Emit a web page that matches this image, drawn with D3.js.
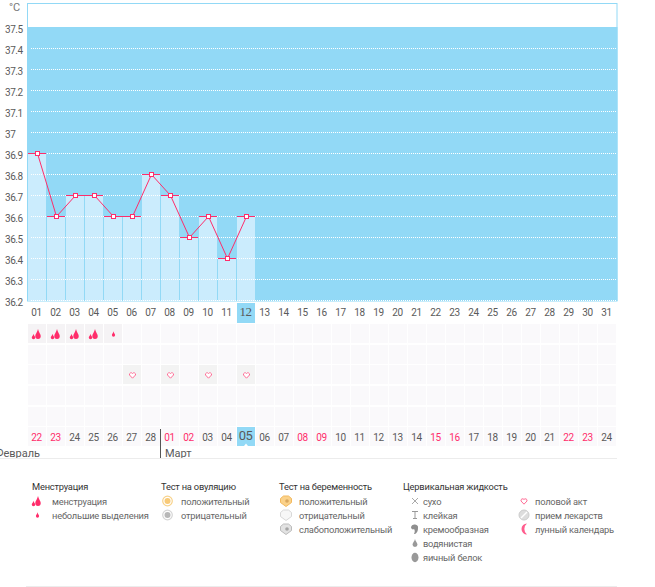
<!DOCTYPE html>
<html>
<head>
<meta charset="utf-8">
<script src="https://cdn.jsdelivr.net/npm/d3@7"></script>
<style>
	html, body { margin: 0; padding: 0; background: #fff; overflow: hidden; }
	svg { display: block; }
	text { font-family: Roboto, sans-serif; font-size: 9.3px; letter-spacing: -.2px; fill: #5a5a5a; }
	.tick-label { font-size: 10px; letter-spacing: -.45px; }
</style>
</head>
<body>
<script>
const cycleDays = ['01','02','03','04','05','06','07','08','09','10','11','12','13','14','15','16','17','18','19','20','21','22','23','24','25','26','27','28','29','30','31'];
const dates = ['22','23','24','25','26','27','28','01','02','03','04','05','06','07','08','09','10','11','12','13','14','15','16','17','18','19','20','21','22','23','24'];
const redDates = [0, 1, 7, 8, 14, 15, 21, 22, 28, 29];
const temps = [36.9, 36.6, 36.7, 36.7, 36.6, 36.6, 36.8, 36.7, 36.5, 36.6, 36.4, 36.6];
const tempTicks = [37.5, 37.4, 37.3, 37.2, 37.1, 37, 36.9, 36.8, 36.7, 36.6, 36.5, 36.4, 36.3, 36.2];
const flow = ['big', 'big', 'big', 'big', 'small'];
const sexDays = [5, 7, 9, 11];
const todayIndex = 11;

const legendGroups = [
	{ title: 'Менструация', x: 32, iconX: 37, textX: 52, items: [['менструация', 'flame'], ['небольшие выделения', 'drop']] },
	{ title: 'Тест на овуляцию', x: 161, iconX: 167.5, textX: 181, items: [['положительный', 'ringYellow'], ['отрицательный', 'ringGray']] },
	{ title: 'Тест на беременность', x: 279, iconX: 286, textX: 299, items: [['положительный', 'badgeYellow'], ['отрицательный', 'badgeWhite'], ['слабоположительный', 'badgeGray']] },
	{ title: 'Цервикальная жидкость', x: 403, iconX: 415, textX: 423, items: [['сухо', 'cross'], ['клейкая', 'sticky'], ['кремообразная', 'creamy'], ['водянистая', 'watery'], ['яичный белок', 'egg']] },
	{ title: '', x: 524, iconX: 524, textX: 535, items: [['половой акт', 'heart'], ['прием лекарств', 'pill'], ['лунный календарь', 'moon']] }
];

const BLUE = '#92d9f6', BAR = '#cbecfd', RED = '#ff2d6b';
const svg = d3.select('body').append('svg').attr('width', 655).attr('height', 587);

const x = d3.scaleBand().domain(d3.range(31)).range([28, 617]);
const y = d3.scaleLinear().domain([36.2, 37.5]).range([300.3, 27.3]);
const yp = d => Math.floor(y(d)) + .5;
const rowY = d3.scaleBand().domain(d3.range(6)).range([324, 448]);
const rowTop = r => Math.round(rowY(r));

// frame and blue field
svg.append('rect').attr('x', 27.5).attr('y', 3.5).attr('width', 589.5).attr('height', 297.5)
	.attr('fill', '#fff').attr('stroke', BLUE);
svg.append('rect').attr('x', 28).attr('y', 27).attr('width', 589.5).attr('height', 274)
	.attr('fill', BLUE);

// temperature bars
svg.selectAll('.bar').data(temps).enter().append('rect')
	.attr('class', 'bar')
	.attr('x', (d, i) => x(i))
	.attr('y', d => yp(d) - .5)
	.attr('width', x.bandwidth() - 1)
	.attr('height', d => 301 - yp(d) + .5)
	.attr('fill', BAR);

// dotted grid
svg.selectAll('.grid').data(tempTicks.slice(1)).enter().append('line')
	.attr('x1', 31).attr('x2', 617)
	.attr('y1', d => yp(d)).attr('y2', d => yp(d))
	.attr('stroke', '#fff').attr('stroke-dasharray', '1 1');

// y labels
svg.selectAll('.ytick').data(tempTicks).enter().append('text')
	.attr('class', 'tick-label')
	.attr('x', 5).attr('y', d => yp(d) + 5)
	.text(d => d);
svg.append('text').attr('x', 9).attr('y', 11).style('font-size', '11px').style('fill', '#777').text('°C');

// top day row
svg.append('rect').attr('x', x(todayIndex)).attr('y', 303).attr('width', x.bandwidth() - 1).attr('height', 20).attr('fill', BLUE);
svg.selectAll('.day').data(cycleDays).enter().append('text')
	.attr('class', 'tick-label')
	.attr('x', (d, i) => x(i) + 8.5).attr('y', 316)
	.attr('text-anchor', 'middle')
	.style('font-size', (d, i) => i == todayIndex ? '13px' : null)
	.style('font-family', (d, i) => i == todayIndex ? '"Liberation Serif", serif' : null)
	.text(d => d);

// event grid
const cells = d3.range(6).flatMap(r => d3.range(31).map(c => ({ r, c })));
svg.selectAll('.cell').data(cells).enter().append('rect')
	.attr('x', d => x(d.c)).attr('y', d => rowTop(d.r))
	.attr('width', x.bandwidth() - 1).attr('height', 19)
	.attr('fill', d => {
		if(d.r == 0 && d.c < flow.length) { return '#f5f3f5'; }
		if(d.r == 2 && sexDays.includes(d.c)) { return '#f3f3f3'; }
		return '#faf9fb';
	});

// bottom date row
svg.append('rect').attr('x', x(todayIndex)).attr('y', 427).attr('width', x.bandwidth() - 1).attr('height', 19).attr('fill', BLUE);
svg.append('path').attr('d', `M${x(todayIndex) + 7} 446 L${x(todayIndex) + 9} 443.5 L${x(todayIndex) + 11} 446 Z`).attr('fill', '#fff');
svg.selectAll('.date').data(dates).enter().append('text')
	.attr('class', 'tick-label')
	.attr('x', (d, i) => x(i) + 8.5).attr('y', (d, i) => i == todayIndex ? 440 : 441)
	.attr('text-anchor', 'middle')
	.style('font-size', (d, i) => i == todayIndex ? '13px' : null)
	.style('fill', (d, i) => redDates.includes(i) ? RED : null)
	.text(d => d);

// months
svg.append('line').attr('x1', 160.5).attr('x2', 160.5).attr('y1', 429).attr('y2', 458).attr('stroke', '#555');
svg.append('text').attr('x', 40).attr('y', 457).attr('text-anchor', 'end')
	.style('font-size', '11px').style('letter-spacing', '0').text('Февраль');
svg.append('text').attr('x', 165).attr('y', 457)
	.style('font-size', '11px').style('letter-spacing', '0').text('Март');
svg.append('line').attr('x1', 0).attr('x2', 617).attr('y1', 458.5).attr('y2', 458.5).attr('stroke', '#ececec');
svg.append('line').attr('x1', 26).attr('x2', 617).attr('y1', 586.5).attr('y2', 586.5).attr('stroke', '#ececec');

// temperature caps, line and markers
svg.selectAll('.cap').data(temps).enter().append('line')
	.attr('x1', (d, i) => x(i)).attr('x2', (d, i) => x(i) + 18)
	.attr('y1', d => yp(d)).attr('y2', d => yp(d))
	.attr('stroke', RED);
const line = d3.line().x((d, i) => x(i) + 9.5).y(d => yp(d));
svg.append('path').attr('d', line(temps)).attr('fill', 'none').attr('stroke', RED);
svg.selectAll('.pt').data(temps).enter().append('rect')
	.attr('x', (d, i) => x(i) + 7.5).attr('y', d => yp(d) - 2)
	.attr('width', 4).attr('height', 4)
	.attr('fill', '#fff').attr('stroke', RED);

// icons
const dropPath = (cx, cy, w, h) => {
	let t = cy - h / 2, m = cy + h * .2, r = w / 2;
	return `M${cx} ${t} C${cx + r * .2} ${t + h * .3} ${cx + r} ${m - h * .2} ${cx + r} ${m} A${r} ${h * .3} 0 0 1 ${cx - r} ${m} C${cx - r} ${m - h * .2} ${cx - r * .2} ${t + h * .3} ${cx} ${t} Z`;
}
const heartPath = (cx, cy) => `M${cx} ${cy + 3.2} L${cx - 3} ${cy} A1.7 1.7 0 0 1 ${cx} ${cy - 1.5} A1.7 1.7 0 0 1 ${cx + 3} ${cy} Z`;

const icon = (g, kind, cx, cy) => {
	if(kind == 'flame') {
		g.append('path').attr('d', dropPath(cx + 1, cy, 5.5, 10)).attr('fill', RED);
		g.append('path').attr('d', dropPath(cx - 3.5, cy + 2.5, 3.5, 5.5)).attr('fill', RED);
	} else if(kind == 'drop') {
		g.append('path').attr('d', dropPath(cx + .5, cy, 3.2, 5.5)).attr('fill', RED);
	} else if(kind == 'ringYellow' || kind == 'ringGray') {
		let yellow = kind == 'ringYellow';
		g.append('circle').attr('cx', cx).attr('cy', cy).attr('r', 4.8).attr('fill', '#fff').attr('stroke', yellow ? '#f8d28a' : '#d5d5d5').attr('stroke-width', 1.2);
		g.append('circle').attr('cx', cx).attr('cy', cy).attr('r', 3).attr('fill', yellow ? '#f8ca78' : '#b8b8b8');
	} else if(kind.startsWith('badge')) {
		let c = { badgeYellow: ['#fbd28a', '#f2b95f', '#d9a860'], badgeWhite: ['#f7f7f7', '#d8d8d8', ''], badgeGray: ['#e2e2e2', '#bbb', '#a5a5a5'] }[kind];
		g.append('path').attr('d', `M${cx - 5.5} ${cy - 2.5} L${cx - 2.5} ${cy - 5} H${cx + 2.5} L${cx + 5.5} ${cy - 2.5} V${cy + 1.5} L${cx} ${cy + 5.5} L${cx - 5.5} ${cy + 1.5} Z`)
			.attr('fill', c[0]).attr('stroke', c[1]);
		if(c[2]) { g.append('circle').attr('cx', cx + 1).attr('cy', cy).attr('r', 1.8).attr('fill', c[2]); }
	} else if(kind == 'cross') {
		g.append('path').attr('d', `M${cx - 3} ${cy - 3} L${cx + 3} ${cy + 3} M${cx + 3} ${cy - 3} L${cx - 3} ${cy + 3}`).attr('stroke', '#aaa').attr('fill', 'none');
	} else if(kind == 'sticky') {
		g.append('path').attr('d', `M${cx - 3} ${cy - 3.5} H${cx + 3} M${cx} ${cy - 3.5} V${cy + 3.5} M${cx - 2} ${cy + 3.5} H${cx + 2}`).attr('stroke', '#999').attr('fill', 'none');
	} else if(kind == 'creamy') {
		g.append('path').attr('d', `M${cx - 4} ${cy - 2} A3.5 3 0 0 1 ${cx + 3} ${cy - 1} C${cx + 3} ${cy + 3} ${cx + 1} ${cy + 5} ${cx - 1} ${cy + 5} C${cx} ${cy + 3} ${cx} ${cy + 1} ${cx - 1} ${cy} C${cx - 2} ${cy + 1} ${cx - 4} ${cy} ${cx - 4} ${cy - 2} Z`).attr('fill', '#8f8f8f');
	} else if(kind == 'watery') {
		g.append('path').attr('d', dropPath(cx, cy, 5, 8)).attr('fill', '#999');
	} else if(kind == 'egg') {
		g.append('ellipse').attr('cx', cx).attr('cy', cy + .5).attr('rx', 3.5).attr('ry', 4.7).attr('fill', '#999');
	} else if(kind == 'heart') {
		g.append('path').attr('d', heartPath(cx, cy)).attr('fill', '#fff').attr('stroke', '#ff6d96');
	} else if(kind == 'pill') {
		g.append('circle').attr('cx', cx).attr('cy', cy).attr('r', 5).attr('fill', '#ddd').attr('stroke', '#ccc');
		g.append('path').attr('d', `M${cx - 3} ${cy + 3} L${cx + 3} ${cy - 3}`).attr('stroke', '#fff').attr('stroke-width', 1.5);
	} else if(kind == 'moon') {
		g.append('path').attr('d', `M${cx + 3} ${cy - 5.5} A5.5 5.5 0 1 0 ${cx + 3} ${cy + 5.5} A7 7 0 0 1 ${cx + 3} ${cy - 5.5} Z`).attr('fill', '#ff5c8d');
	}
}

// events in the grid
flow.forEach((f, i) => icon(svg, f == 'big' ? 'flame' : 'drop', x(i) + 9, rowTop(0) + 10));
sexDays.forEach(i => icon(svg, 'heart', x(i) + 9.5, rowTop(2) + 10));

// legend
for(let group of legendGroups) {
	svg.append('text').attr('x', group.x).attr('y', 490).style('fill', '#333').text(group.title);
	group.items.forEach((item, i) => {
		let cy = 501 + i * 14;
		svg.append('text').attr('x', group.textX).attr('y', cy + 3.5).style('fill', '#666').text(item[0]);
		icon(svg, item[1], group.iconX, cy);
	});
}
</script>
</body>
</html>
